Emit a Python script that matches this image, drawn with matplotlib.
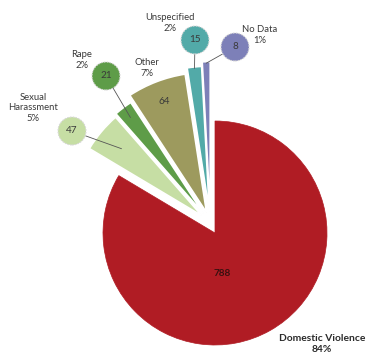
import math
import matplotlib
matplotlib.use("Agg")
import matplotlib.pyplot as plt
from matplotlib.patches import Circle

# data
categories = ["Domestic Violence", "Sexual Harassment", "Rape", "Other", "Unspecified", "No Data"]
counts = [788, 47, 21, 64, 15, 8]
percents = ["84%", "5%", "2%", "7%", "2%", "1%"]
label_texts = ["Domestic Violence", "Sexual\nHarassment", "Rape", "Other", "Unspecified", "No Data"]

colors = ["#b01c24", "#c6dea4", "#5e9c48", "#9d9a5e", "#52aaa8", "#7d80b8"]
radii = [1.0, 1.17, 1.19, 1.25, 1.30, 1.34]

# red slice: centre at pixel (215, 233), radius 112 px
CX, CY, UNIT = 215, 233, 112.0


def P(x, y):
    # pixel position -> data coords
    return ((x - CX) / UNIT, (CY - y) / UNIT)


fig = plt.figure(figsize=(3.69, 3.54), dpi=100)
ax = fig.add_axes([0, 0, 1, 1])

explode = [0, 0.1, 0.1, 0.1, 0.1, 0.1]
wedges, _ = ax.pie(counts, startangle=90, counterclock=False, explode=explode,
                   colors=colors, wedgeprops=dict(edgecolor="white", linewidth=1.2))
wedges[0].set_edgecolor("#b01c24")
wedges[0].set_linewidth(0.5)
# the small slices are pulled out together towards the upper left
for w, r in zip(wedges[1:], radii[1:]):
    w.set_center((w.center[0] - 0.04, w.center[1] + 0.09))
    w.set_radius(r)

# pie() sets its own limits, so fix them afterwards
ax.set_xlim(P(0, 0)[0], P(369, 0)[0])
ax.set_ylim(P(0, 354)[1], P(0, 0)[1])
ax.set_aspect("equal")
ax.axis("off")

text_kw = dict(fontsize=6.8, color="#3a3a3a", ha="center", va="center",
               family="Lato", linespacing=1.2)

# layout for the callouts (pixel positions)
circle_pos = {1: (72, 131), 2: (106, 76), 4: (195, 40), 5: (235, 47)}
anchor_frac = {1: 0.80, 2: 0.91, 4: 0.99, 5: 0.99}
text_pos = {0: (322, 344), 1: (33, 108), 2: (82, 60), 3: (147, 68),
            4: (170, 23), 5: (260, 35)}

for i, w in enumerate(wedges):
    mid = math.radians((w.theta1 + w.theta2) / 2)
    if i in circle_pos:
        f = anchor_frac[i]
        ax_ = w.center[0] + f * w.r * math.cos(mid)
        ay_ = w.center[1] + f * w.r * math.sin(mid)
        cx, cy = P(*circle_pos[i])
        ax.plot([cx, ax_], [cy, ay_], color="#555555", lw=0.6, zorder=3)
        ax.add_patch(Circle((cx, cy), 14 / UNIT, facecolor=colors[i],
                            edgecolor="#d8d8d8", lw=0.8, linestyle=(0, (1.5, 1)),
                            zorder=4))
        ax.text(cx, cy, str(counts[i]), zorder=5, **{**text_kw, "fontsize": 7.2})
    elif i == 3:
        nx = w.center[0] + 0.85 * w.r * math.cos(mid)
        ny = w.center[1] + 0.85 * w.r * math.sin(mid)
        ax.text(nx, ny, str(counts[i]), **{**text_kw, "fontsize": 7.2})
    else:
        nx, ny = P(222, 273)
        ax.text(nx, ny, str(counts[i]), **{**text_kw, "fontsize": 7.2,
                                            "fontweight": "bold", "color": "#3a1010"})

    tx, ty = P(*text_pos[i])
    kw = dict(text_kw)
    if i == 0:
        kw.update(fontsize=7.4, color="#2a2a2a", fontweight="bold")
    ax.text(tx, ty, label_texts[i] + "\n" + percents[i], **kw)

fig.savefig("out.png", dpi=100, facecolor="white")
